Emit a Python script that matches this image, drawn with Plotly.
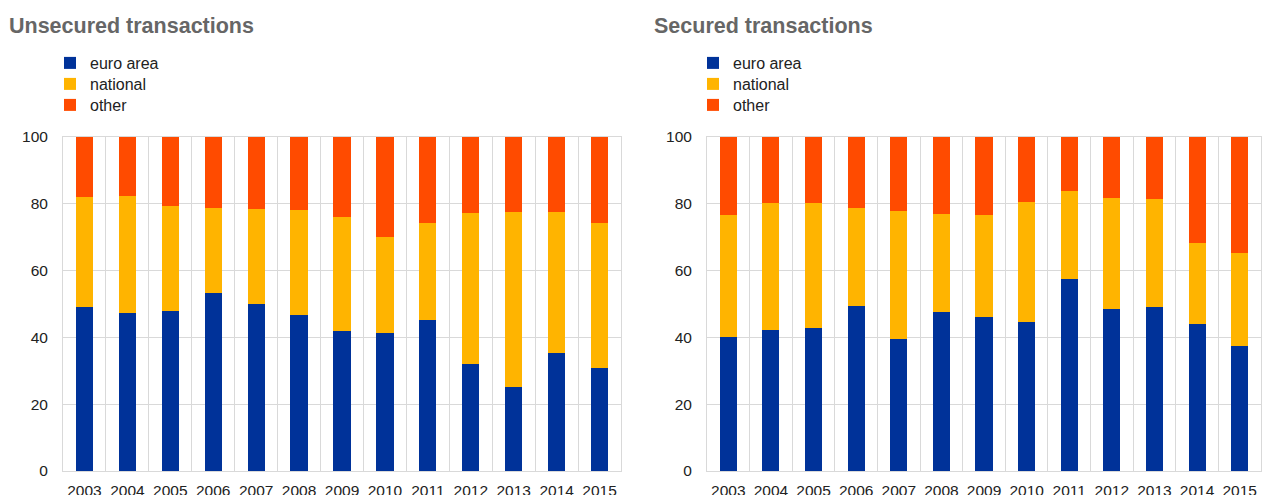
import plotly.graph_objects as go

years = [str(y) for y in range(2003, 2016)]

# Unsecured transactions (% shares)
unsec_euro = [49.0, 47.4, 48.0, 53.4, 50.1, 46.7, 41.8, 41.3, 45.2, 32.1, 25.1, 35.4, 30.9]
unsec_national = [33.0, 34.9, 31.3, 25.3, 28.3, 31.4, 34.1, 28.8, 29.0, 45.0, 52.4, 42.1, 43.4]
unsec_other = [18.0, 17.7, 20.7, 21.3, 21.6, 21.9, 24.1, 29.9, 25.8, 22.9, 22.5, 22.5, 25.7]

# Secured transactions (% shares)
sec_euro = [40.0, 42.1, 42.8, 49.3, 39.5, 47.6, 46.0, 44.6, 57.4, 48.5, 49.2, 43.9, 37.3]
sec_national = [36.6, 38.0, 37.4, 29.4, 38.3, 29.3, 30.7, 36.0, 26.3, 33.2, 32.1, 24.5, 28.0]
sec_other = [23.4, 19.9, 19.8, 21.3, 22.2, 23.1, 23.3, 19.4, 16.3, 18.3, 18.7, 31.6, 34.7]

series_names = ["euro area", "national", "other"]
colors = ["#003299", "#FFB400", "#FF4B00"]

W, H = 1262, 495
def px(x):
    return x / W
def py(y):
    return 1 - y / H

fig = go.Figure()

panels = [
    ("x", "y", 50, [unsec_euro, unsec_national, unsec_other]),
    ("x2", "y2", 693, [sec_euro, sec_national, sec_other]),
]
legend_rows = [63, 84, 105]
legend_layout = {}
k = 0
for xa, ya, lx, vals in panels:
    for name, col, v, ly in zip(series_names, colors, vals, legend_rows):
        k += 1
        lname = "legend" if k == 1 else f"legend{k}"
        fig.add_trace(go.Bar(
            x=years, y=v, name=name, xaxis=xa, yaxis=ya, legend=lname,
            showlegend=True,
            marker=dict(color=col, line=dict(width=0)),
            hoverinfo="skip",
        ))
        legend_layout[lname] = dict(
            x=px(lx), y=py(ly), xanchor="left", yanchor="middle",
            font=dict(family="Liberation Sans, Arial", size=16, color="#222222"),
            bgcolor="rgba(0,0,0,0)", itemclick=False, itemdoubleclick=False,
        )

grid = "#d9d9d9"
tickfont = dict(family="Liberation Sans, Arial", size=15.5, color="#222222")

xcommon = dict(
    type="category", tickson="boundaries", showgrid=True, gridcolor=grid, gridwidth=1,
    showline=True, linecolor=grid, linewidth=1, mirror=True, ticks="",
    tickfont=tickfont, range=[-0.5, 12.5], fixedrange=True, ticklabelstandoff=5,
    tickangle=0, automargin=False,
)
ycommon = dict(
    range=[0, 100], tickvals=[0, 20, 40, 60, 80, 100], showgrid=True, gridcolor=grid,
    gridwidth=1, showline=True, linecolor=grid, linewidth=1, mirror=True, ticks="",
    zeroline=False, tickfont=tickfont, fixedrange=True, ticklabelstandoff=11,
    automargin=False,
)

y0, y1 = py(471), py(137)
fig.update_layout(
    width=W, height=H,
    showlegend=True,
    margin=dict(l=0, r=0, t=0, b=0, autoexpand=False),
    paper_bgcolor="white", plot_bgcolor="white",
    barmode="stack", bargap=0.6,
    font=dict(family="Liberation Sans, Arial", color="#222222"),
    xaxis=dict(domain=[px(63), px(621)], anchor="y", **xcommon),
    yaxis=dict(domain=[y0, y1], anchor="x", **ycommon),
    xaxis2=dict(domain=[px(707), px(1261)], anchor="y2", **xcommon),
    yaxis2=dict(domain=[y0, y1], anchor="x2", **ycommon),
    annotations=[
        dict(text="<b>Unsecured transactions</b>", x=px(7), y=py(26), xref="paper", yref="paper",
             xanchor="left", yanchor="middle", showarrow=False,
             font=dict(family="Liberation Sans, Arial", size=21.5, color="#666666")),
        dict(text="<b>Secured transactions</b>", x=px(652), y=py(26), xref="paper", yref="paper",
             xanchor="left", yanchor="middle", showarrow=False,
             font=dict(family="Liberation Sans, Arial", size=21.5, color="#666666")),
    ],
    **legend_layout,
)

fig.write_html("out.html", config={"displayModeBar": False},
               post_script="document.body.style.margin='0px';")
